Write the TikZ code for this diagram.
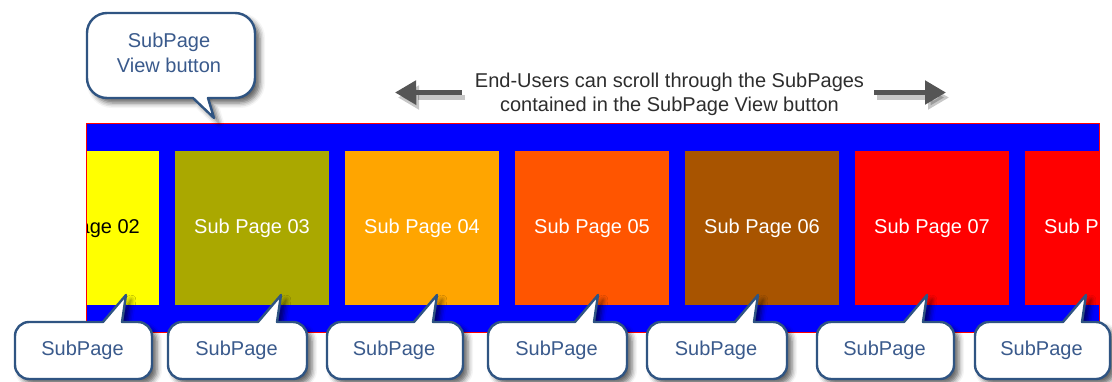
\documentclass[tikz,border=0pt]{standalone}
\usepackage{fontspec}
\setmainfont{Liberation Sans}
\usetikzlibrary{arrows.meta,shadows.blur}
\definecolor{bubbleline}{RGB}{47,84,130}
\definecolor{bubbletext}{RGB}{58,90,140}
\definecolor{olivebox}{RGB}{170,168,0}
\definecolor{orangebox}{RGB}{255,165,0}
\definecolor{redorange}{RGB}{255,85,0}
\definecolor{brownbox}{RGB}{168,84,0}
\definecolor{pureyellow}{RGB}{255,255,0}
\definecolor{arrowgray}{RGB}{85,85,85}
\definecolor{textgray}{RGB}{45,45,45}
\tikzset{
  pagebox/.style={minimum width=154pt, minimum height=154pt, inner sep=0pt, draw=none, font=\fontsize{20}{24}\selectfont, text=white},
  bubble/.style={draw=bubbleline, line width=2.4pt, fill=white, line join=round,
    blur shadow={shadow xshift=5pt, shadow yshift=-5pt, shadow blur radius=5pt, shadow opacity=60}},
  bubbletxt/.style={text=bubbletext, font=\fontsize{20}{25}\selectfont, align=center, inner sep=0pt},
  scrollarrow/.style={draw=arrowgray, line width=5pt, -{Triangle[length=21pt,width=23pt]}},
}
\newcommand\lowbubble[5]{%
  \path[bubble] (#2,336) arc[start angle=180,end angle=90,radius=14pt] -- (#4-23,322) -- (#4,295) -- (#4-4,322) -- (#3-14,322) arc[start angle=90,end angle=0,radius=14pt] -- (#3,365) arc[start angle=0,end angle=-90,radius=14pt] -- (#2+14,379) arc[start angle=270,end angle=180,radius=14pt] -- cycle;
  \node[bubbletxt] (#1) at ({(#2+#3)/2-1},350) {#5};}
\begin{document}
\begin{tikzpicture}[x=1pt,y=-1pt]
\useasboundingbox (0,0) rectangle (1112,381);
% SubPage View area
\fill[blue] (86,123) rectangle (1099,332);
\begin{scope}
  \clip (86,123) rectangle (1099,332);
  \node[pagebox, fill=pureyellow, text=black] (p2) at (82,228) {Sub Page 02};
  \node[pagebox, fill=olivebox] (p3) at (252,228) {Sub Page 03};
  \node[pagebox, fill=orangebox] (p4) at (422,228) {Sub Page 04};
  \node[pagebox, fill=redorange] (p5) at (592,228) {Sub Page 05};
  \node[pagebox, fill=brownbox] (p6) at (762,228) {Sub Page 06};
  \node[pagebox, fill=red] (p7) at (932,228) {Sub Page 07};
  \node[pagebox, fill=red] (p8) at (1102,228) {Sub Page 08};
\end{scope}
\draw[red, line width=1pt] (86,123) rectangle (1099,332);
% scroll note
\node[text=textgray, font=\fontsize{20}{24}\selectfont, align=center, inner sep=0pt] (note) at (669.5,94)
  {End-Users can scroll through the SubPages\\contained in the SubPage View button};
\coordinate (la1) at (462,92.5);
\coordinate (la2) at (395,92.5);
\coordinate (ra1) at (874,92.5);
\coordinate (ra2) at (946,92.5);
\draw[scrollarrow, draw=black, opacity=0.22, transform canvas={xshift=3pt,yshift=-5pt}] (la1) -- (la2);
\draw[scrollarrow, draw=black, opacity=0.22, transform canvas={xshift=3pt,yshift=-5pt}] (ra1) -- (ra2);
\draw[scrollarrow] (la1) -- (la2);
\draw[scrollarrow] (ra1) -- (ra2);
% top callout
\path[bubble] (87,33) arc[start angle=180,end angle=90,radius=20pt] -- (235,13) arc[start angle=90,end angle=0,radius=20pt] -- (255,78) arc[start angle=0,end angle=-90,radius=20pt] -- (208,98) -- (214,118) -- (193,98) -- (107,98) arc[start angle=270,end angle=180,radius=20pt] -- cycle;
\node[bubbletxt] (viewbtn) at (169,53) {SubPage\\View button};
% bottom callouts
\lowbubble{s1}{15}{152}{126}{SubPage}
\lowbubble{s2}{168}{307}{281}{SubPage}
\lowbubble{s3}{327}{463}{437}{SubPage}
\lowbubble{s4}{488}{627}{598}{SubPage}
\lowbubble{s5}{647}{787}{758}{SubPage}
\lowbubble{s6}{817}{954}{927}{SubPage}
\lowbubble{s7}{975}{1110}{1086}{SubPage}
\end{tikzpicture}
\end{document}
